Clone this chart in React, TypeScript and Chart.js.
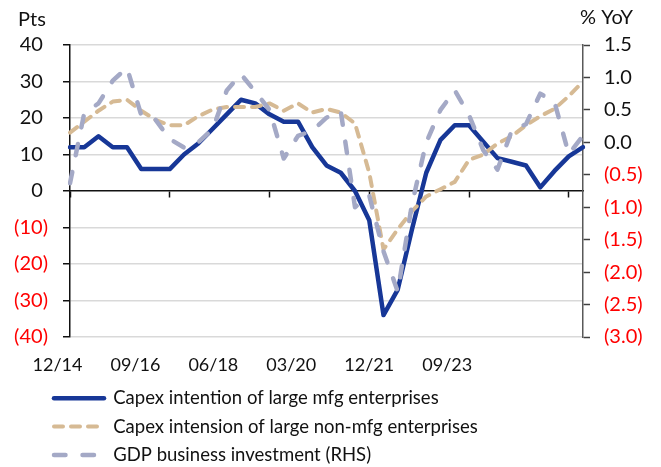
import React, { useEffect, useRef } from 'react';
import { Chart, registerables } from 'chart.js';

Chart.register(...registerables);

// Quarterly categories (12/14 .. 12/23)
const quarters = [
  '12/14', '03/15', '06/15', '09/15', '12/15', '03/16', '06/16', '09/16', '12/16',
  '03/17', '06/17', '09/17', '12/17', '03/18', '06/18', '09/18', '12/18',
  '03/19', '06/19', '09/19', '12/19', '03/20', '06/20', '09/20', '12/20',
  '03/21', '06/21', '09/21', '12/21', '03/22', '06/22', '09/22', '12/22',
  '03/23', '06/23', '09/23', '12/23',
];

// Axis labels shown under the chart
const xTickLabels = ['12/14', '09/16', '06/18', '03/20', '12/21', '09/23'];

// Capex intention of large mfg enterprises (Pts, LHS)
const mfgCapex = [
  12, 12, 15, 12, 12, 6, 6, 6, 10, 13, 17, 21, 25, 24, 21, 19, 19, 12, 7, 5,
  0, -8, -34, -27, -10.5, 5, 14, 18, 18, 13.5, 9, 8, 7, 1, 5.5, 9.5, 12,
];

// Capex intension of large non-mfg enterprises (Pts, LHS)
const nonMfgCapex = [
  16, 19, 22, 24.5, 25, 22, 19.5, 18, 18, 20.5, 22.3, 23, 23, 23, 24, 22, 24,
  21.5, 22.5, 21.5, 18.5, 5, -16, -10.5, -5.5, -1.5, 0.5, 2.5, 8.5, 10, 13, 15,
  18, 20.5, 22.5, 26, 30,
];

// GDP business investment (% YoY, RHS)
const gdpInvestment = [
  -0.63, 0.45, 0.6, 0.95, 1.15, 0.42, 0.35, 0.05, -0.08, 0.0, 0.2, 0.8, 1.05,
  0.78, 0.5, -0.25, 0.1, 0.18, 0.38, 0.48, -1.0, -0.82, -1.68, -2.3, -0.95, 0.0,
  0.5, 0.8, 0.42, -0.12, -0.42, 0.18, 0.28, 0.75, 0.62, -0.18, 0.1,
];

const seriesLabels = [
  'Capex intention of large mfg enterprises',
  'Capex intension of large non-mfg enterprises',
  'GDP business investment (RHS)',
];

export default function App() {
  const ref = useRef<HTMLCanvasElement>(null);

  useEffect(() => {
    if (!ref.current) return;
    const FONT = 'Lato, "Liberation Sans", sans-serif';
    const BLACK = '#111111';
    const RED = '#ff0000';
    const GRID = '#d9d9d9';
    const BLUE = '#173797';
    const TAN = '#d6ba94';
    const GREY = '#a4a9c6';
    const labelStart = -0.88;
    const labelStep = 5.47;
    const legendFont = 18.5;
    const legendPad = 9.8;

    const headerPlugin = {
      id: 'headerText',
      afterLayout(chart: any) {
        const lg = chart.legend;
        if (lg) {
          lg.left += 44.2;
          lg.right += 44.2;
          lg.top += 0.75;
          lg.bottom += 0.75;
        }
      },
      afterDraw(chart: any) {
        const ctx = chart.ctx;
        ctx.save();
        ctx.font = `20px ${FONT}`;
        ctx.fillStyle = BLACK;
        ctx.textBaseline = 'middle';
        ctx.textAlign = 'left';
        ctx.fillText('Pts', 18, 20);
        ctx.fillText('% YoY', 580, 18);
        ctx.restore();
      },
    };

    const chart = new Chart(ref.current, {
      type: 'line',
      data: {
        labels: quarters,
        datasets: [
          {
            label: seriesLabels[0],
            data: mfgCapex,
            yAxisID: 'y',
            borderColor: BLUE,
            backgroundColor: BLUE,
            borderWidth: 4.5,
            order: 3,
          },
          {
            label: seriesLabels[1],
            data: nonMfgCapex,
            yAxisID: 'y',
            borderColor: TAN,
            backgroundColor: TAN,
            borderWidth: 4,
            borderDash: [9, 8],
            order: 2,
          },
          {
            label: seriesLabels[2],
            data: gdpInvestment,
            yAxisID: 'y1',
            borderColor: GREY,
            backgroundColor: GREY,
            borderWidth: 4.5,
            borderDash: [11.5, 17],
            order: 1,
          },
        ],
      },
      options: {
        responsive: false,
        animation: false,
        layout: { padding: { top: 45, bottom: -6.4, left: 0, right: 0 } },
        elements: {
          point: { radius: 0, hoverRadius: 0 },
          line: { tension: 0, borderCapStyle: 'round', borderJoinStyle: 'round', fill: false },
        },
        plugins: {
          tooltip: { enabled: false },
          title: { display: false },
          legend: {
            position: 'bottom',
            align: 'start',
            labels: {
              font: { family: FONT, size: legendFont },
              color: BLACK,
              padding: legendPad,
              usePointStyle: true,
              pointStyle: 'line',
              pointStyleWidth: 50,
              sort: (a: any, b: any) => a.datasetIndex - b.datasetIndex,
              generateLabels: (c: any) => {
                const items = (Chart.defaults.plugins.legend.labels as any).generateLabels(c);
                return items.map((it: any) => {
                  const ds: any = c.data.datasets[it.datasetIndex];
                  return {
                    ...it,
                    strokeStyle: ds.borderColor,
                    fillStyle: ds.borderColor,
                    lineWidth: ds.borderWidth,
                    lineDash: ds.borderDash || [],
                    lineCap: 'round',
                  };
                });
              },
            },
          },
        },
        scales: {
          x: {
            type: 'category',
            position: { y: 0 } as any,
            grid: {
              display: true,
              drawOnChartArea: false,
              drawTicks: true,
              tickLength: 6,
              tickColor: BLACK,
              tickWidth: 1.5,
            },
            border: { display: true, color: BLACK, width: 1.5 },
            ticks: { display: false, autoSkip: false },
            afterBuildTicks: (s: any) => {
              s.ticks = s.ticks.filter((t: any) => t.value % 7 === 0);
            },
          },
          xl: {
            type: 'linear',
            axis: 'x',
            position: 'bottom',
            min: 0,
            max: quarters.length - 1,
            grid: { display: false, drawTicks: false },
            border: { display: false },
            ticks: {
              font: { family: FONT, size: 18 },
              color: BLACK,
              padding: 17,
              maxRotation: 0,
              autoSkip: false,
              callback: (_v: any, i: number) => xTickLabels[i],
            },
            afterBuildTicks: (s: any) => {
              s.ticks = xTickLabels.map((_, k) => ({ value: labelStart + labelStep * k }));
            },
            afterFit: (s: any) => {
              s.height = 41.5;
            },
          },
          y: {
            position: 'left',
            min: -40,
            max: 40,
            ticks: {
              stepSize: 10,
              font: { family: FONT, size: 20 },
              color: (ctx: any) => (ctx.tick && ctx.tick.value < 0 ? RED : BLACK),
              padding: 15,
              callback: (v: any) => (v < 0 ? `(${-v})` : `${v} `),
            },
            grid: {
              color: (ctx: any) => (ctx.tick && ctx.tick.value === 0 ? 'rgba(0,0,0,0)' : GRID),
              lineWidth: 1.5,
              tickColor: BLACK,
              tickWidth: 1.5,
              tickLength: 7,
            },
            border: { color: BLACK, width: 1.5 },
            afterFit: (s: any) => {
              s.width = 70;
            },
          },
          y1: {
            position: 'right',
            min: -3,
            max: 1.5,
            ticks: {
              stepSize: 0.5,
              font: { family: FONT, size: 20 },
              color: (ctx: any) => (ctx.tick && ctx.tick.value < 0 ? RED : BLACK),
              padding: 14,
              callback: (v: any) => (v < 0 ? `(${(-v).toFixed(1)})` : Number(v).toFixed(1)),
            },
            grid: {
              drawOnChartArea: false,
              tickColor: '#404040',
              tickWidth: 1.5,
              tickLength: 7,
            },
            border: { color: '#595959', width: 1.5 },
            afterFit: (s: any) => {
              s.width = 78;
            },
          },
        },
      } as any,
      plugins: [headerPlugin],
    });

    return () => chart.destroy();
  }, []);

  return (
    <canvas
      ref={ref}
      width={661}
      height={467}
      style={{ position: 'fixed', left: 0, top: 0, display: 'block' }}
    />
  );
}
